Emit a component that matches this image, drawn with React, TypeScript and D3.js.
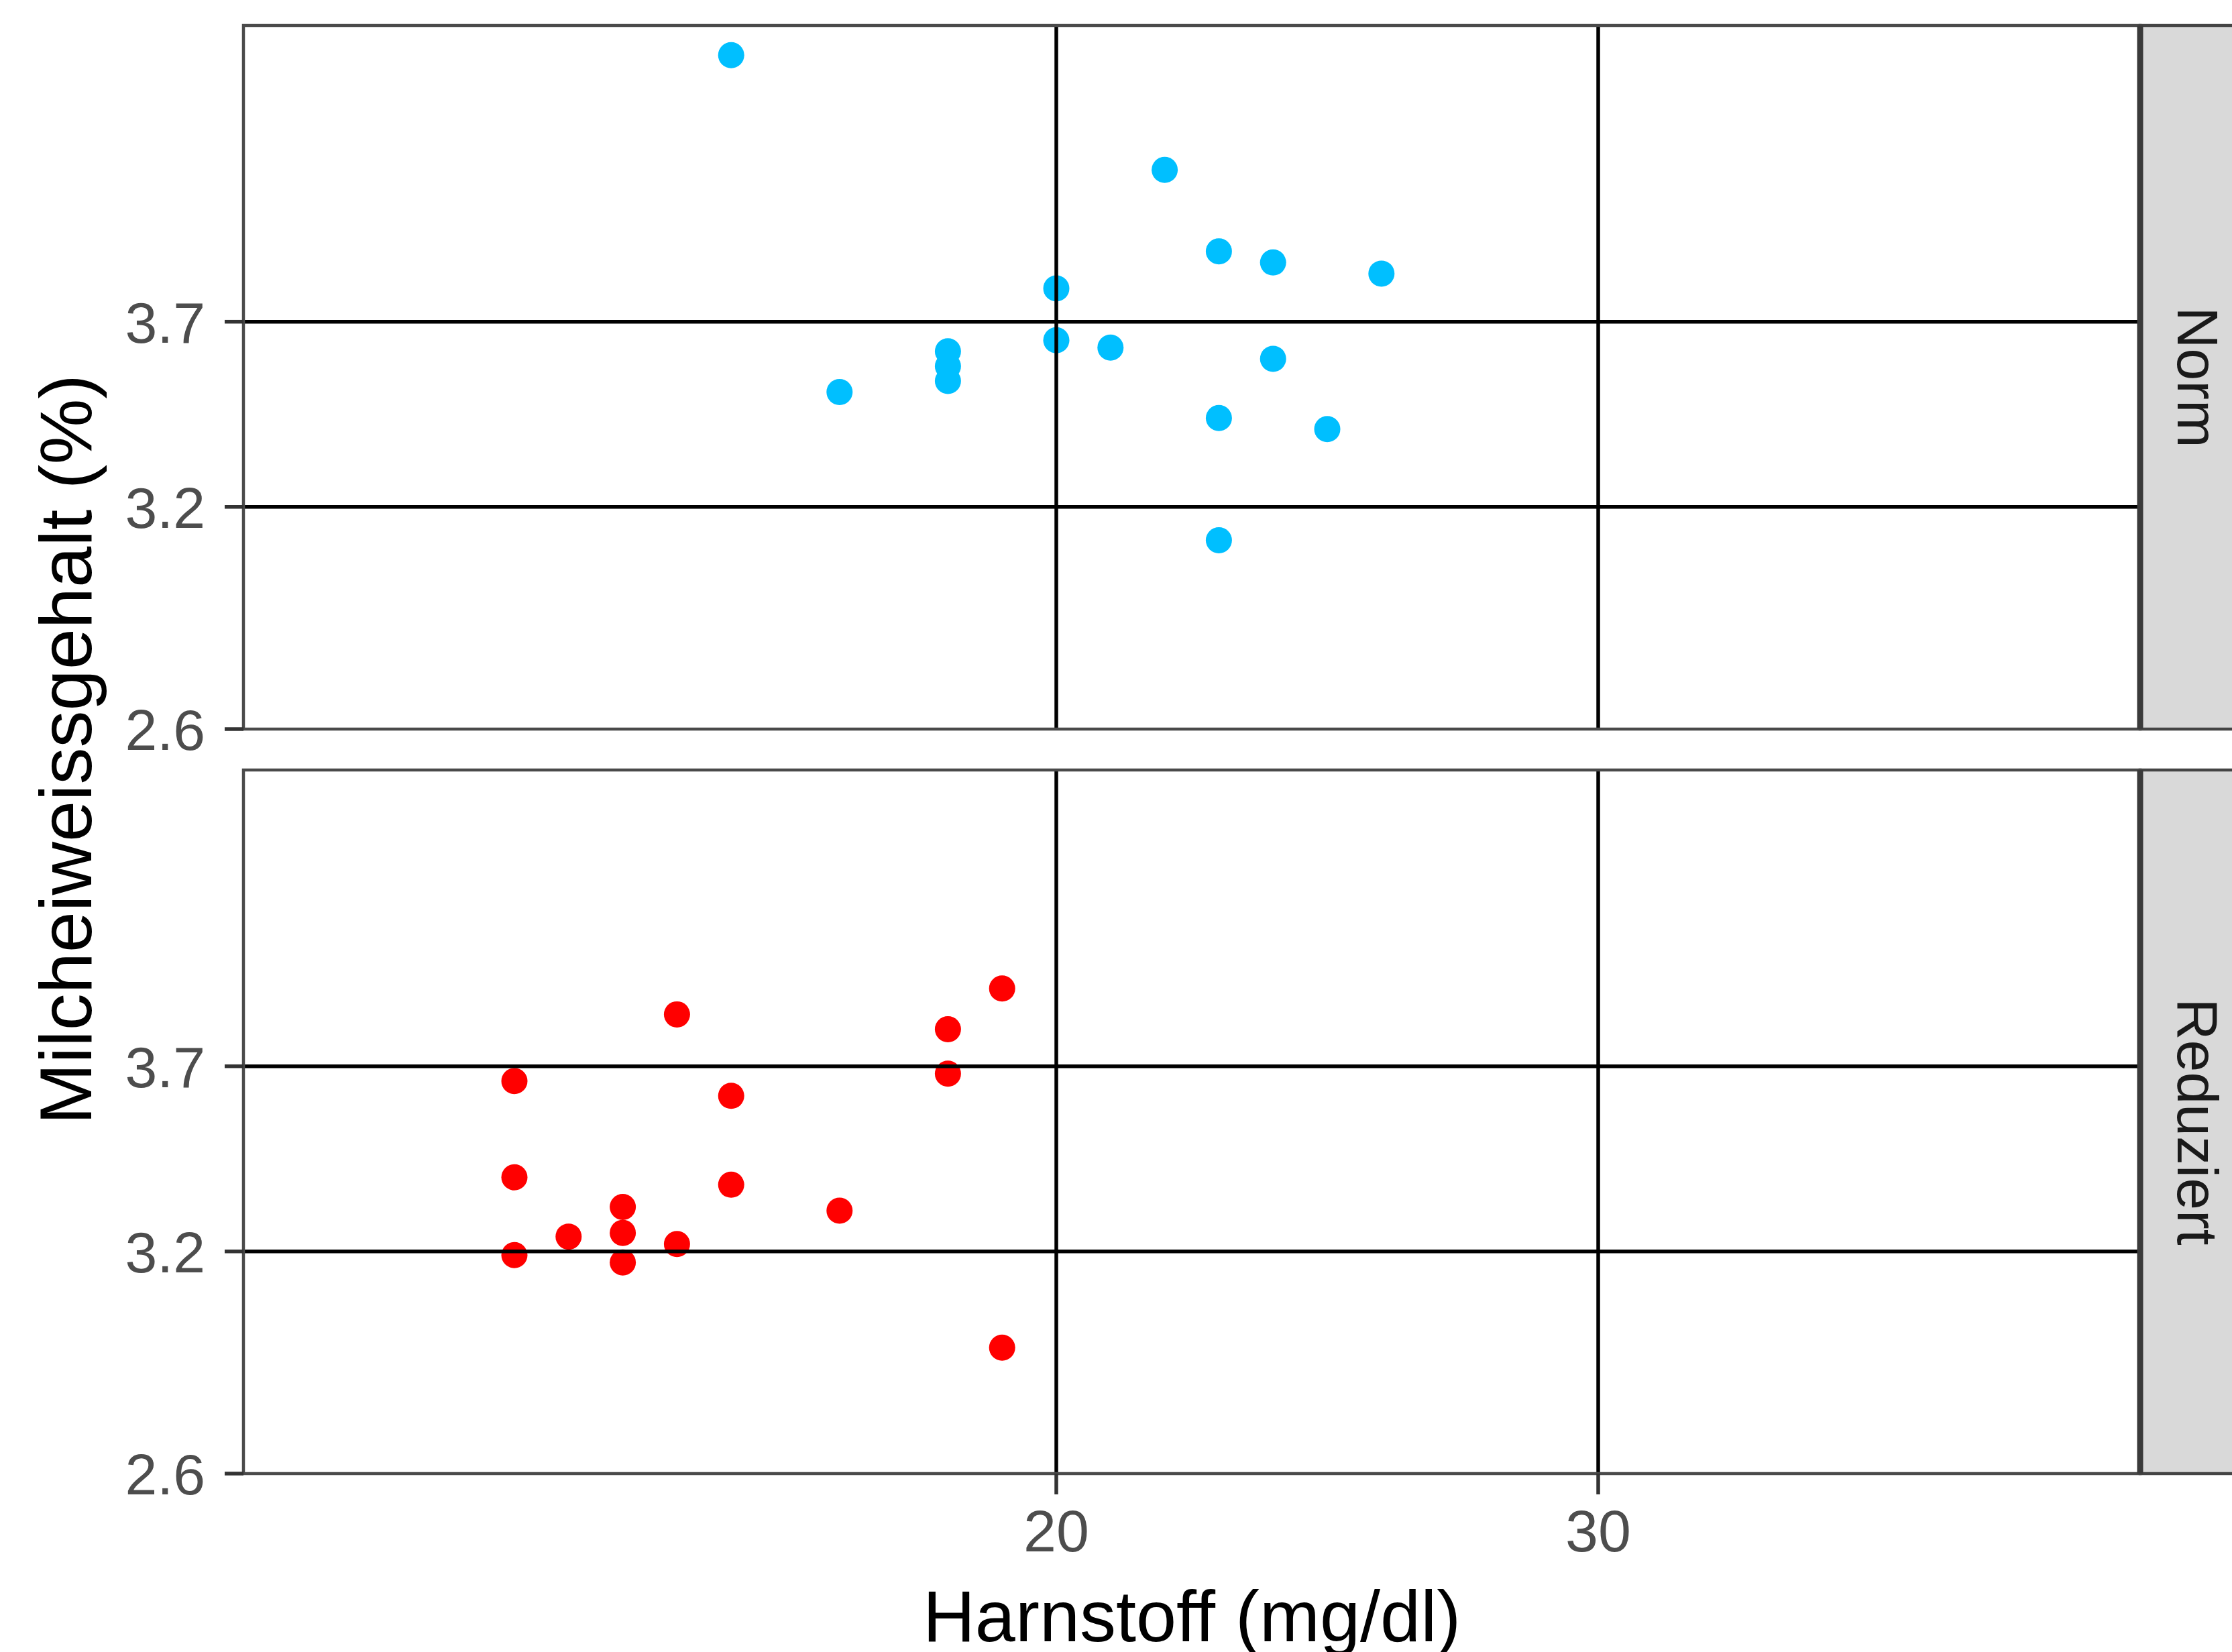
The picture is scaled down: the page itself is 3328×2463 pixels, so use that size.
import React from 'react';
import * as d3 from 'd3';

// Harnstoff (mg/dl) vs Milcheiweissgehalt (%) per feeding group
const normX = [14, 22, 23, 24, 26, 20, 20, 21, 18, 18, 18, 16, 24, 23, 25, 23];
const normY = [4.42, 4.11, 3.89, 3.86, 3.83, 3.79, 3.65, 3.63, 3.62, 3.58, 3.54, 3.51, 3.6, 3.44, 3.41, 3.11];
const redX = [10, 10, 10, 11, 12, 12, 12, 13, 13, 14, 14, 16, 18, 18, 19, 19];
const redY = [3.66, 3.4, 3.19, 3.24, 3.32, 3.25, 3.17, 3.84, 3.22, 3.62, 3.38, 3.31, 3.8, 3.68, 3.91, 2.94];

const panels = ['Norm', 'Reduziert'];
const panelColors = ['#00BFFF', '#FF0000'];
const xBreaks = [20, 30];
const yBreaks = [2.6, 3.2, 3.7];
const yGrid = [3.2, 3.7];

const W = 3328;
const H = 2463;
const left = 363;
const right = 3191;
const panelTops = [38, 1148];
const panelH = 1049;
const font = 'Liberation Sans, Arial, Helvetica, sans-serif';

const App = () => {
  const x = d3.scaleLinear().domain([5, 40]).range([left, right]);
  const series = [
    normX.map((v, i) => ({ x: v, y: normY[i] })),
    redX.map((v, i) => ({ x: v, y: redY[i] })),
  ];
  const bottom = panelTops[1] + panelH;

  return (
    <svg
      width={W}
      height={H}
      style={{ position: 'absolute', left: 0, top: 0, display: 'block', background: '#fff' }}
    >
      {panels.map((name, p) => {
        const top = panelTops[p];
        const y = d3.scaleLinear().domain([2.6, 4.5]).range([top + panelH, top]);
        return (
          <g key={name}>
            <rect x={left} y={top} width={right - left} height={panelH} fill="#fff" />
            {/* points */}
            {series[p].map((d, i) => (
              <circle key={i} cx={x(d.x)} cy={y(d.y)} r={19.5} fill={panelColors[p]} />
            ))}
            {/* grid lines, drawn over the points */}
            {yGrid.map((v) => (
              <line key={'h' + v} x1={left} x2={right} y1={y(v)} y2={y(v)} stroke="#000" strokeWidth={5.5} />
            ))}
            {xBreaks.map((v) => (
              <line key={'v' + v} x1={x(v)} x2={x(v)} y1={top} y2={top + panelH} stroke="#000" strokeWidth={5.5} />
            ))}
            <rect x={left} y={top} width={right - left} height={panelH} fill="none" stroke="#4a4a4a" strokeWidth={4.5} />
            {/* strip */}
            <rect x={right} y={top} width={200} height={panelH} fill="#D9D9D9" stroke="#444" strokeWidth={4.5} />
            <line x1={right} x2={right} y1={top} y2={top + panelH} stroke="#3a3a3a" strokeWidth={9} />
            <text
              transform={`translate(3247,${top + panelH / 2}) rotate(90)`}
              textAnchor="middle"
              fontFamily={font}
              fontSize={86}
              fill="#1A1A1A"
            >
              {name}
            </text>
            {/* y axis */}
            {yBreaks.map((v) => (
              <g key={'t' + v}>
                <line x1={335} x2={left} y1={y(v)} y2={y(v)} stroke="#333" strokeWidth={5.5} />
                <text
                  x={306}
                  y={y(v)}
                  dy="0.36em"
                  textAnchor="end"
                  fontFamily={font}
                  fontSize={86}
                  fill="#4D4D4D"
                >
                  {d3.format('.1f')(v)}
                </text>
              </g>
            ))}
          </g>
        );
      })}
      {/* x axis */}
      {xBreaks.map((v) => (
        <g key={'x' + v}>
          <line x1={x(v)} x2={x(v)} y1={bottom} y2={bottom + 31} stroke="#333" strokeWidth={5.5} />
          <text x={x(v)} y={2313} textAnchor="middle" fontFamily={font} fontSize={88} fill="#4D4D4D">
            {v}
          </text>
        </g>
      ))}
      <text x={(left + right) / 2} y={2447} textAnchor="middle" fontFamily={font} fontSize={108} fill="#000">
        Harnstoff (mg/dl)
      </text>
      <text
        transform={`translate(136,${(panelTops[0] + bottom) / 2}) rotate(-90)`}
        textAnchor="middle"
        fontFamily={font}
        fontSize={110}
        fill="#000"
      >
        Milcheiweissgehalt (%)
      </text>
    </svg>
  );
};

export default App;
